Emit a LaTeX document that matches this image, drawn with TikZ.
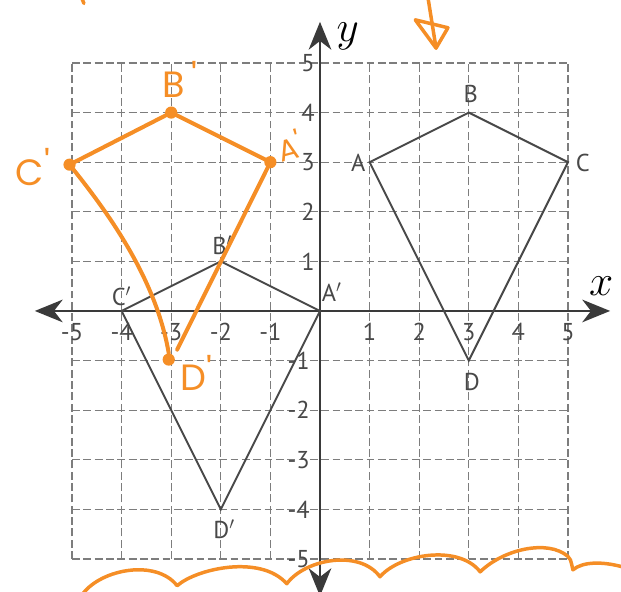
\documentclass[tikz,border=0pt]{standalone}
\usepackage{fontspec}
\setmainfont{PT Sans}
\newfontfamily\handfont{Poppins}
\usetikzlibrary{arrows.meta}
\definecolor{handc}{RGB}{245,142,38}
\definecolor{ink}{RGB}{72,72,72}
\definecolor{gridc}{RGB}{125,125,125}
\begin{document}
\begin{tikzpicture}[
  gridline/.style={gridc, line width=0.7pt, dash pattern=on 4.5pt off 2pt},
  axisline/.style={ink!80!black, line width=1.1pt},
  tipx/.style={{Stealth[length=16pt,width=13pt,inset=5pt]}-{Stealth[length=16pt,width=13pt,inset=5pt]}},
  kite/.style={ink, line width=1.1pt, line join=miter},
  lbl/.style={ink, font=\fontsize{14}{14}\selectfont, inner sep=0pt},
  ticklbl/.style={ink, font=\fontsize{14}{14}\selectfont, inner sep=0pt},
  handline/.style={handc, line width=2.3pt, line cap=round, line join=round},
  handlbl/.style={handc, font=\handfont\fontsize{21}{21}\selectfont, inner sep=0pt},
  vdot/.style={circle, fill=handc, inner sep=0pt, minimum size=7pt},
]
\useasboundingbox (-6.452,-5.665) rectangle (6.069,6.270);

% grid
\foreach \i in {-5,...,5} {
  \draw[gridline] (\i,-5) -- (\i,5);
  \draw[gridline] (-5,\i) -- (5,\i);
}

% axes
\coordinate (xl) at (-5.75,0);
\coordinate (xr) at (5.85,0);
\coordinate (yt) at (0,5.83);
\coordinate (yb) at (0,-5.75);
\draw[axisline, tipx] (xl) -- (xr);
\draw[axisline, tipx] (yb) -- (yt);
\node (xlab) at (5.67,0.5) {\fontsize{26}{26}\selectfont$x$};
\node (ylab) at (0.56,5.54) {\fontsize{26}{26}\selectfont$y$};

% tick labels
\foreach \i in {-5,...,-1} {
  \node[ticklbl] (tx\i) at (\i,-0.42) {\i};
  \node[ticklbl, anchor=east] (ty\i) at (-0.2,\i) {\i};
}
\foreach \i in {1,...,5} {
  \node[ticklbl] (tx\i) at (\i,-0.42) {\i};
  \node[ticklbl, anchor=east] (ty\i) at (-0.1,\i) {\i};
}

% original kite
\coordinate (A) at (1,3);
\coordinate (B) at (3,4);
\coordinate (C) at (5,3);
\coordinate (D) at (3,-1);
\draw[kite] (A) -- (B) -- (C) -- (D) -- cycle;
\node[lbl] (lA) at (0.77,2.98) {A};
\node[lbl] (lB) at (3.04,4.37) {B};
\node[lbl] (lC) at (5.3,2.98) {C};
\node[lbl] (lD) at (3.06,-1.43) {D};

% image kite
\coordinate (A1) at (0,0);
\coordinate (B1) at (-2,1);
\coordinate (C1) at (-4,0);
\coordinate (D1) at (-2,-4);
\draw[kite] (A1) -- (B1) -- (C1) -- (D1) -- cycle;
\node[lbl] (lA1) at (0.24,0.38) {A$'$};
\node[lbl] (lB1) at (-1.97,1.33) {B$'$};
\node[lbl] (lC1) at (-4.0,0.3) {C$'$};
\node[lbl] (lD1) at (-1.93,-4.4) {D$'$};

% handwritten kite
\coordinate (hA) at (-1,3);
\coordinate (hB) at (-3,4);
\coordinate (hC) at (-5.05,2.95);
\coordinate (hD) at (-3.05,-0.98);
\coordinate (hDa) at (-2.88,-0.78);
\coordinate (hDc) at (-3.05,-0.85);
\draw[handline] (hA) -- (hB) -- (hC);
\draw[handline] (hC) .. controls (-4.2,1.9) and (-3.3,0.6) .. (hDc);
\draw[handline] (hA) -- (hDa);
\node[vdot] (dA) at (hA) {};
\node[vdot] (dB) at (hB) {};
\node[vdot] (dC) at (hC) {};
\node[vdot] (dD) at (hD) {};
\node[handlbl] (hlB) at (-2.82,4.66) {B$\,$\raisebox{4pt}{'}};
\node[handlbl] (hlC) at (-5.79,2.9) {C\raisebox{5pt}{'}};
\node[handlbl, rotate=15, font=\handfont\fontsize{17}{17}\selectfont] (hlA) at (-0.62,3.33) {A\raisebox{3pt}{'}};
\node[handlbl] (hlD) at (-2.5,-1.25) {D\raisebox{3pt}{'}};

% handwritten arrow at top
\coordinate (ar0) at (2.18,6.30);
\coordinate (ar1) at (2.34,5.30);
\coordinate (ar2) at (1.92,5.87);
\coordinate (ar3) at (2.58,5.71);
\draw[handline, line width=2pt] (ar0) -- (ar1);
\draw[handline, line width=2pt] (ar2) -- (ar3) -- (ar1) -- cycle;

% small stroke top left
\coordinate (tk0) at (-4.80,6.30);
\coordinate (tk1) at (-4.76,6.20);
\draw[handline, line width=2pt] (tk0) -- (tk1);

% scalloped line at bottom
\coordinate (s0) at (-4.78,-5.70);
\coordinate (s1) at (-2.88,-5.54);
\coordinate (s2) at (-0.67,-5.50);
\coordinate (s3) at (1.21,-5.36);
\coordinate (s4) at (3.23,-5.26);
\coordinate (s5) at (5.10,-5.22);
\coordinate (s6) at (6.10,-5.16);
\draw[handline, line width=2pt]
  (s0) .. controls (-4.4,-5.2) and (-3.3,-5.0) .. (s1)
       .. controls (-2.5,-5.2) and (-1.2,-4.9) .. (s2)
       .. controls (-0.3,-5.0) and (0.8,-4.8) .. (s3)
       .. controls (1.6,-4.9) and (2.8,-4.7) .. (s4)
       .. controls (3.7,-4.8) and (4.6,-4.6) .. (5.0,-4.95)
       .. controls (5.05,-5.0) .. (s5)
       .. controls (5.3,-5.05) and (5.7,-5.05) .. (s6);
\end{tikzpicture}
\end{document}
